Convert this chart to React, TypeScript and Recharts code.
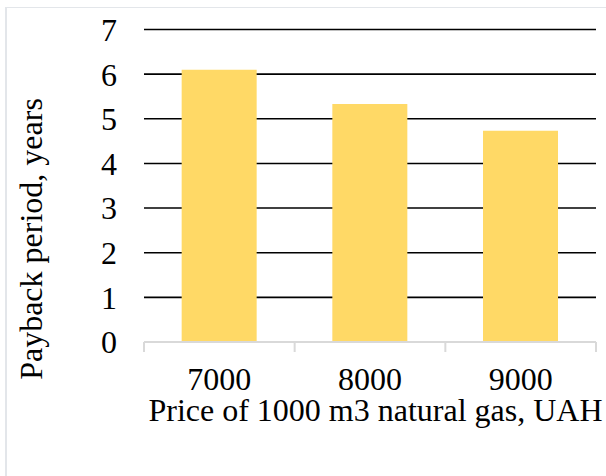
import React from "react";
import { BarChart, Bar, XAxis, YAxis, CartesianGrid } from "recharts";

const categories = ["7000", "8000", "9000"];
const paybackYears = [6.1, 5.33, 4.73];
const yTicks = [0, 1, 2, 3, 4, 5, 6, 7];
const gridValues = [1, 2, 3, 4, 5, 6, 7];
const xTitle = "Price of 1000 m3 natural gas, UAH";
const yTitle = "Payback period, years";

const data = categories.map((c, i) => ({ price: c, years: paybackYears[i] }));

const FONT = '"Liberation Serif", "Times New Roman", serif';
const AXIS_GRAY = "#D9D9D9";
const TICK_SIZE = 10;
const TICK_MARGIN = 15.3;

const XTick = (props: any) => {
  const { x, y, payload, index, visibleTicksCount } = props;
  const off = payload && typeof payload.offset === "number" ? payload.offset : 0;
  const axisY = y - TICK_SIZE - TICK_MARGIN;
  const last = index === (visibleTicksCount ?? categories.length) - 1;
  return (
    <g>
      <line x1={x - off} x2={x - off} y1={axisY} y2={axisY + TICK_SIZE} stroke={AXIS_GRAY} strokeWidth={2} />
      {last && (
        <line x1={x + off} x2={x + off} y1={axisY} y2={axisY + TICK_SIZE} stroke={AXIS_GRAY} strokeWidth={2} />
      )}
      <text x={x} y={y} dy="0.71em" textAnchor="middle" fill="#000" fontFamily={FONT} fontSize={32}>
        {payload.value}
      </text>
    </g>
  );
};

const XTitle = (props: any) => {
  const vb = props.viewBox || {};
  return (
    <text x={vb.x + vb.width / 2 + 5.5} y={vb.y + 79} textAnchor="middle" fill="#000" fontFamily={FONT} fontSize={32}>
      {xTitle}
    </text>
  );
};

const YTitle = (props: any) => {
  const cx = 42;
  const cy = 239;
  return (
    <text
      x={cx}
      y={cy}
      transform={`rotate(-90 ${cx} ${cy})`}
      textAnchor="middle"
      fill="#000"
      fontFamily={FONT}
      fontSize={32}
    >
      {yTitle}
    </text>
  );
};

export default function App() {
  return (
    <div
      style={{
        position: "absolute",
        left: 0,
        top: 0,
        width: 606,
        height: 476,
        overflow: "hidden",
        background: "#fff",
      }}
    >
      <div
        style={{
          position: "absolute",
          left: 5,
          top: 7,
          width: 700,
          height: 600,
          borderLeft: "2px solid #E3E6EA",
          borderTop: "1.5px solid #E3E6EA",
        }}
      />
      <div style={{ position: "absolute", left: 0, top: 0 }}>
        <BarChart
          width={606}
          height={476}
          data={data}
          margin={{ top: 29.5, right: 10, bottom: 44, left: 0 }}
          barCategoryGap="25%"
        >
          <CartesianGrid
            vertical={false}
            horizontalValues={gridValues}
            stroke="#000"
            strokeWidth={1.6}
          />
          <XAxis
            dataKey="price"
            height={90}
            axisLine={{ stroke: AXIS_GRAY, strokeWidth: 2 }}
            tickLine={false}
            tickSize={TICK_SIZE}
            tickMargin={TICK_MARGIN}
            tick={<XTick />}
            interval={0}
            label={<XTitle />}
          />
          <YAxis
            width={144}
            domain={[0, 7]}
            ticks={yTicks}
            interval={0}
            axisLine={false}
            tickLine={false}
            tickSize={0}
            tickMargin={27}
            tick={{ fill: "#000", fontFamily: FONT, fontSize: 32 }}
            label={<YTitle />}
          />
          <Bar dataKey="years" fill="#FFD966" isAnimationActive={false} />
        </BarChart>
      </div>
    </div>
  );
}
